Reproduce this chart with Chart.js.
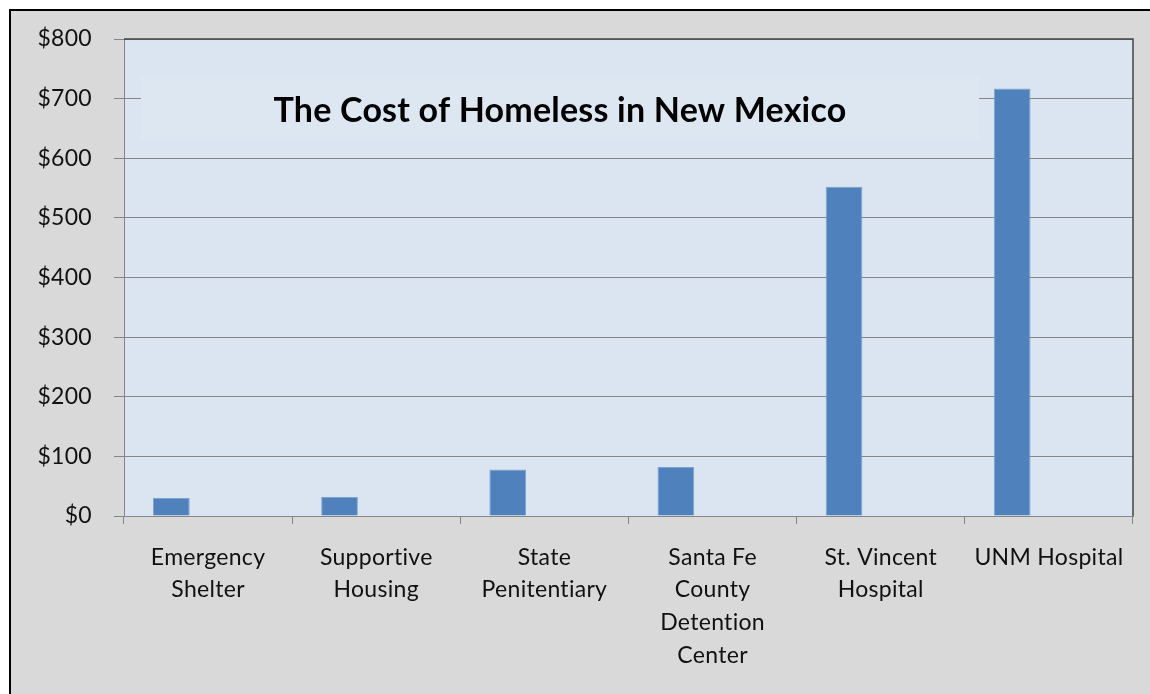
<!DOCTYPE html>
<html>
<head>
<meta charset="utf-8">
<script src="https://cdn.jsdelivr.net/npm/chart.js@4"></script>
<style>
  html, body { margin: 0; padding: 0; background: #fff; overflow: hidden; }
  #frame { position: absolute; left: 9px; top: 9px; width: 1200px; height: 800px;
           background: #d9d9d9; border-left: 2px solid #000; border-top: 2px solid #000; }
  #wrap { position: absolute; left: 0; top: 0; width: 1150px; height: 694px; }
</style>
</head>
<body>
<div id="frame"></div>
<div id="wrap"><canvas id="chart"></canvas></div>
<script>
// chart data
const categories = [
    ['Emergency', 'Shelter'],
    ['Supportive', 'Housing'],
    ['State', 'Penitentiary'],
    ['Santa Fe', 'County', 'Detention', 'Center'],
    ['St. Vincent', 'Hospital'],
    ['UNM Hospital']
];
const costs = [30, 32, 78, 82, 552, 717];
// two empty series in the original sheet push the bars to the left of each slot
const emptySeriesA = [null, null, null, null, null, null];
const emptySeriesB = [null, null, null, null, null, null];
const yTicks = [0, 100, 200, 300, 400, 500, 600, 700, 800];
const chartTitle = 'The Cost of Homeless in New Mexico';

const FONT = 'Lato, "Open Sans", sans-serif';

// plot background + border, title box
const plotDecor = {
    id: 'plotDecor',
    beforeDraw(chart) {
        const { ctx, chartArea: a } = chart;
        // a tiny letter spacing keeps Lato from drawing the "ti" ligature
        ctx.letterSpacing = '0.3px';
        ctx.save();
        ctx.fillStyle = '#dbe5f1';
        ctx.fillRect(a.left, a.top, a.right - a.left, a.bottom - a.top);
        ctx.restore();
    },
    beforeDatasetsDraw(chart) {
        const { ctx } = chart;
        ctx.save();
        ctx.fillStyle = '#dde7f2';
        ctx.fillRect(141, 76, 838, 64);
        ctx.fillStyle = '#000';
        ctx.font = 'bold 34px ' + FONT;
        ctx.letterSpacing = '0.2px';
        ctx.textAlign = 'center';
        ctx.textBaseline = 'middle';
        ctx.fillText(chartTitle, 560, 111);
        ctx.restore();
    },
    afterDraw(chart) {
        const { ctx, chartArea: a } = chart;
        ctx.save();
        ctx.strokeStyle = '#444';
        ctx.lineWidth = 1.5;
        ctx.beginPath();
        ctx.moveTo(a.left, a.top);
        ctx.lineTo(a.right, a.top);
        ctx.lineTo(a.right, a.bottom);
        ctx.stroke();
        ctx.restore();
    }
};

new Chart(document.getElementById('chart').getContext('2d'), {
    type: 'bar',
    data: {
        labels: categories,
        datasets: [
            { label: 'Cost', data: costs, backgroundColor: '#4f81bd', borderColor: '#7fa3d1', borderWidth: 1 },
            { label: 'A', data: emptySeriesA, backgroundColor: '#c0504d' },
            { label: 'B', data: emptySeriesB, backgroundColor: '#9bbb59' }
        ]
    },
    options: {
        responsive: true,
        maintainAspectRatio: false,
        animation: false,
        categoryPercentage: 0.655,
        barPercentage: 1,
        layout: { padding: { left: 0, top: 39, right: 17, bottom: 0 } },
        plugins: {
            legend: { display: false },
            tooltip: { enabled: false }
        },
        scales: {
            x: {
                afterFit: s => { s.height = 178; },
                grid: { offset: true, drawOnChartArea: false, drawTicks: true, tickLength: 8, color: '#868686' },
                border: { color: '#868686' },
                ticks: {
                    color: '#111',
                    padding: 17,
                    maxRotation: 0,
                    autoSkip: false,
                    font: { family: FONT, size: 23, lineHeight: 1.42 }
                }
            },
            y: {
                min: 0,
                max: 800,
                afterFit: s => { s.width = 124; },
                afterBuildTicks: s => { s.ticks = yTicks.map(v => ({ value: v })); },
                grid: { color: '#868686', drawTicks: true, tickLength: 10 },
                border: { color: '#868686' },
                ticks: {
                    color: '#111',
                    padding: 22,
                    font: { family: FONT, size: 23 },
                    callback: v => '$' + v
                }
            }
        }
    },
    plugins: [plotDecor]
});
</script>
</body>
</html>
